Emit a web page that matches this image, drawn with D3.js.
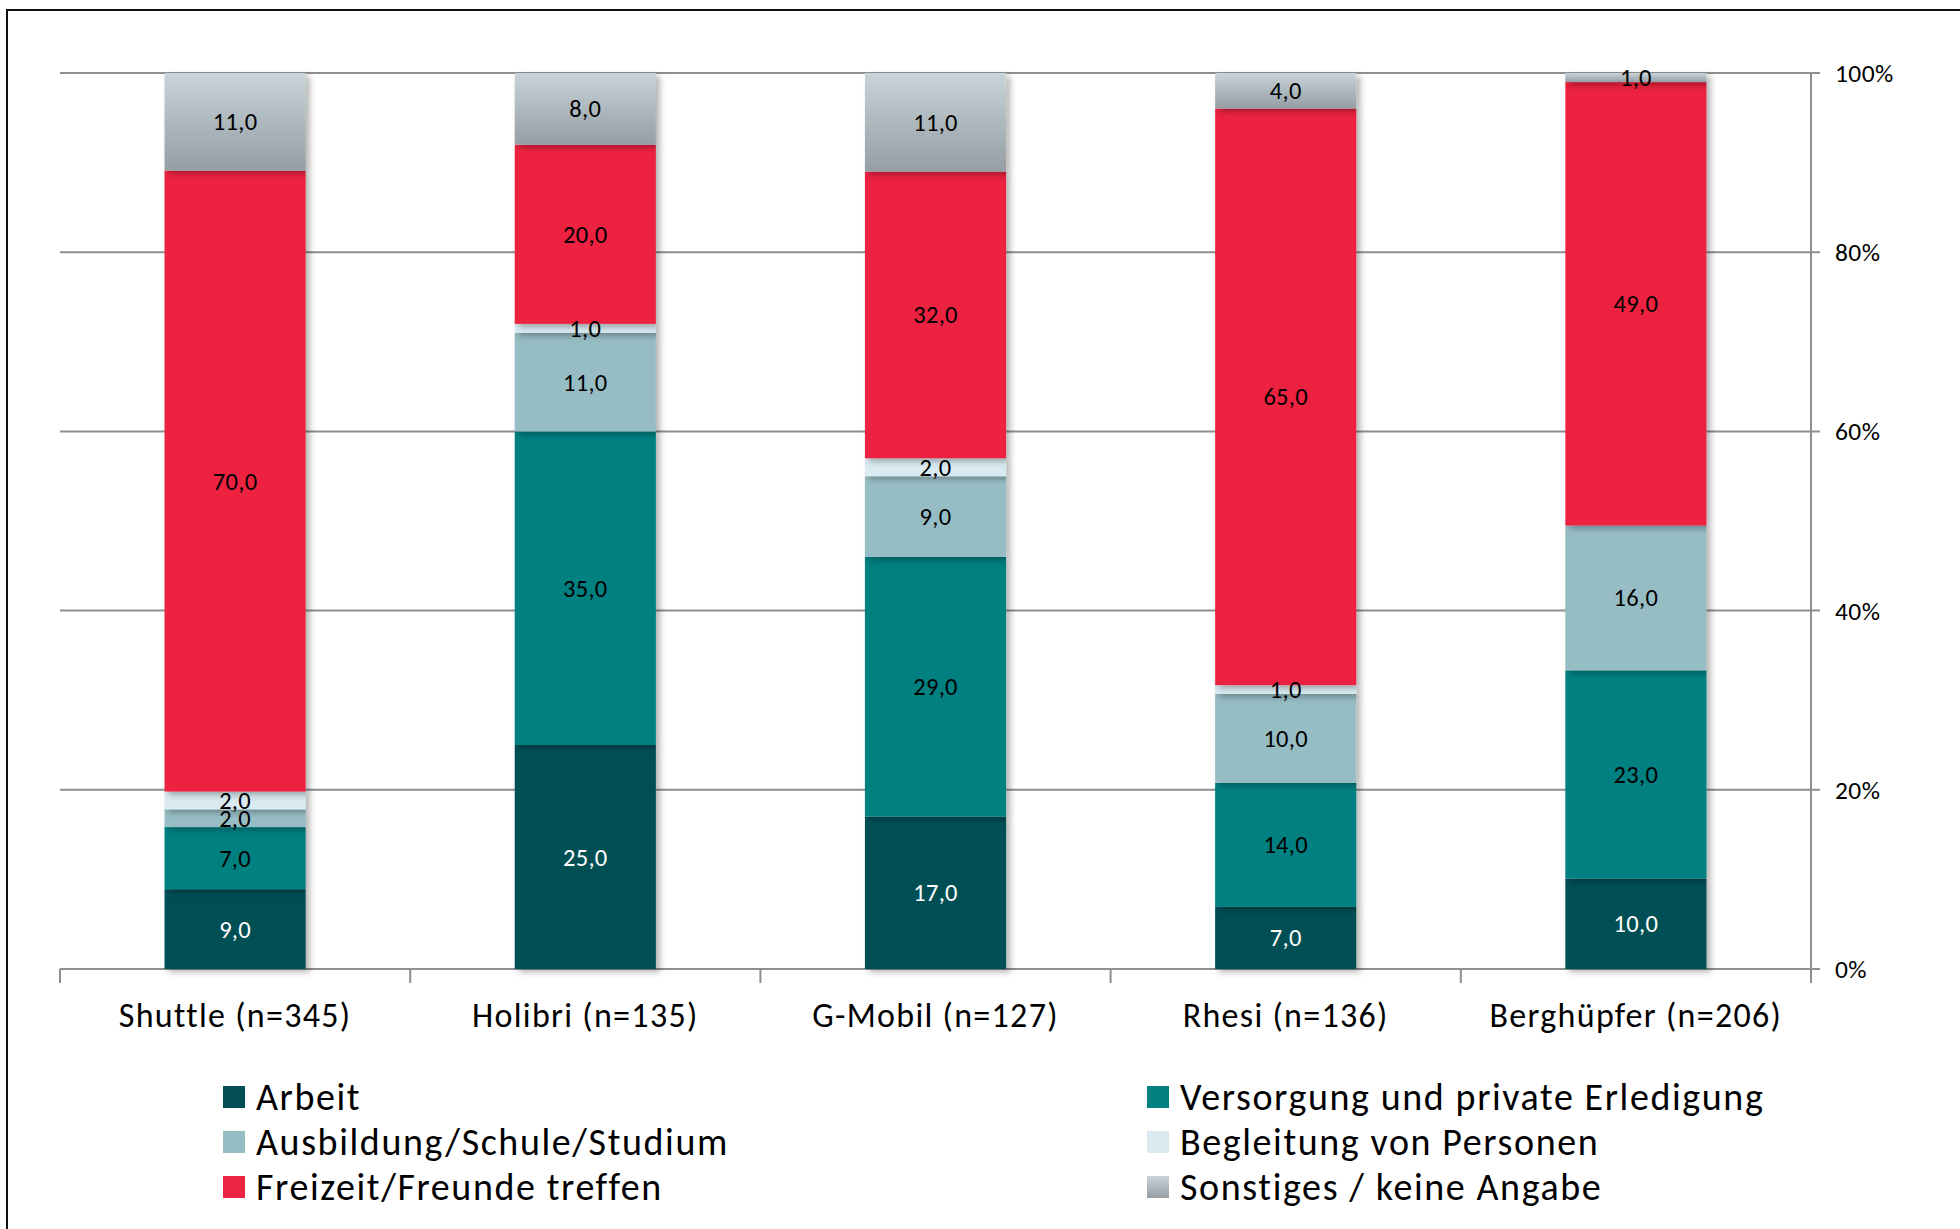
<!DOCTYPE html>
<html><head><meta charset="utf-8">
<script src="https://cdn.jsdelivr.net/npm/d3@7"></script>
<style>
html,body{margin:0;padding:0;background:#fff;}
svg{display:block;font-family:Carlito,Lato,"Open Sans",sans-serif;}
</style></head>
<body>
<svg id="chart" width="1960" height="1229"></svg>
<script>
const categories = ["Shuttle (n=345)", "Holibri (n=135)", "G-Mobil (n=127)", "Rhesi (n=136)", "Berghüpfer (n=206)"];
const seriesNames = ["Arbeit", "Versorgung und private Erledigung", "Ausbildung/Schule/Studium", "Begleitung von Personen", "Freizeit/Freunde treffen", "Sonstiges / keine Angabe"];
const arbeit     = [9, 25, 17, 7, 10];
const versorgung = [7, 35, 29, 14, 23];
const ausbildung = [2, 11, 9, 10, 16];
const begleitung = [2, 1, 2, 1, 0];
const freizeit   = [70, 20, 32, 65, 49];
const sonstiges  = [11, 8, 11, 4, 1];
const yTickValues = [0, 0.2, 0.4, 0.6, 0.8, 1.0];
const yTickLabels = ["0%", "20%", "40%", "60%", "80%", "100%"];

const seriesValues = [arbeit, versorgung, ausbildung, begleitung, freizeit, sonstiges];
const colors = ["#034f55", "#008081", "#97bdc4", "#d9eaf1", "#ec2341", "url(#gradGrey)"];
const labelColors = ["#fff", "#000", "#000", "#000", "#000", "#000"];

const table = categories.map((c, i) => {
  const row = {cat: c};
  seriesNames.forEach((s, j) => row[s] = seriesValues[j][i]);
  return row;
});

const svg = d3.select("#chart");
const defs = svg.append("defs");
const grad = defs.append("linearGradient").attr("id", "gradGrey").attr("x1", 0).attr("y1", 0).attr("x2", 0).attr("y2", 1);
grad.append("stop").attr("offset", "0%").attr("stop-color", "#c8d4d9");
grad.append("stop").attr("offset", "100%").attr("stop-color", "#949ea4");
const flt = defs.append("filter").attr("id", "shadow").attr("x", "-20%").attr("y", "-5%").attr("width", "150%").attr("height", "115%");
flt.append("feDropShadow").attr("dx", 4).attr("dy", 3).attr("stdDeviation", 3).attr("flood-color", "#000").attr("flood-opacity", 0.3);

// frame
svg.append("path").attr("d", "M7,1240 L7,10 L1970,10").attr("fill", "none").attr("stroke", "#111").attr("stroke-width", 2);

const pLeft = 60, pRight = 1811, pTop = 73, pBottom = 969;
const x = d3.scaleBand().domain(categories).range([pLeft, pRight]).paddingInner(0.597).paddingOuter(0.2985);
const xOuter = d3.scaleBand().domain(categories).range([pLeft, pRight]).padding(0);
const y = d3.scaleLinear().domain([0, 1]).range([pBottom, pTop]);

// gridlines
svg.append("g").selectAll("line").data(yTickValues).join("line")
  .attr("x1", pLeft).attr("x2", pRight + 9)
  .attr("y1", d => y(d)).attr("y2", d => y(d))
  .attr("stroke", "#8e8e8e").attr("stroke-width", 2);

// right axis line
svg.append("line").attr("x1", pRight).attr("x2", pRight).attr("y1", pTop).attr("y2", pBottom + 14)
  .attr("stroke", "#8e8e8e").attr("stroke-width", 2);

// x-axis ticks at band boundaries
const bounds = categories.map(c => xOuter(c)).concat([pRight]);
svg.append("g").selectAll("line").data(bounds).join("line")
  .attr("x1", d => d).attr("x2", d => d).attr("y1", pBottom).attr("y2", pBottom + 14)
  .attr("stroke", "#8e8e8e").attr("stroke-width", 2);

// y tick labels
svg.append("g").selectAll("text").data(yTickValues).join("text")
  .attr("x", pRight + 24).attr("y", d => y(d) + 9)
  .attr("font-size", 25.5).attr("letter-spacing", 0.4).attr("fill", "#000")
  .text((d, i) => yTickLabels[i]);

// stacked bars
const stack = d3.stack().keys(seriesNames).offset(d3.stackOffsetExpand);
const stacked = stack(table);

const barG = svg.append("g");
stacked.forEach((layer, j) => {
  barG.append("g").attr("filter", "url(#shadow)").selectAll("rect").data(layer).join("rect")
    .attr("x", d => x(d.data.cat)).attr("width", x.bandwidth())
    .attr("y", d => y(d[1])).attr("height", d => Math.max(0, y(d[0]) - y(d[1])))
    .attr("fill", colors[j]);
});

// data labels
const fmt = v => d3.format(".1f")(v).replace(".", ",");
stacked.forEach((layer, j) => {
  svg.append("g").selectAll("text").data(layer.filter(d => d.data[layer.key] > 0)).join("text")
    .attr("x", d => x(d.data.cat) + x.bandwidth() / 2)
    .attr("y", d => y((d[0] + d[1]) / 2) + 8.5)
    .attr("text-anchor", "middle").attr("font-size", 24.5).attr("letter-spacing", 0.3)
    .attr("fill", labelColors[j])
    .text(d => fmt(d.data[layer.key]));
});

// category labels
svg.append("g").selectAll("text").data(categories).join("text")
  .attr("x", d => xOuter(d) + xOuter.bandwidth() / 2).attr("y", 1027)
  .attr("text-anchor", "middle").attr("font-size", 34).attr("letter-spacing", 1.3).attr("fill", "#000")
  .text(d => d);

// legend
const legX = [223, 1147], legY = [1097, 1142, 1187];
const leg = svg.append("g").selectAll("g").data(seriesNames).join("g")
  .attr("transform", (d, i) => `translate(${legX[i % 2]},${legY[Math.floor(i / 2)]})`);
leg.append("rect").attr("x", 0).attr("y", -11).attr("width", 22).attr("height", 22)
  .attr("fill", (d, i) => colors[i]);
leg.append("text").attr("x", 33).attr("y", 13).attr("font-size", 38).attr("letter-spacing", 1.6).attr("fill", "#000")
  .text(d => d);
</script>
</body></html>
